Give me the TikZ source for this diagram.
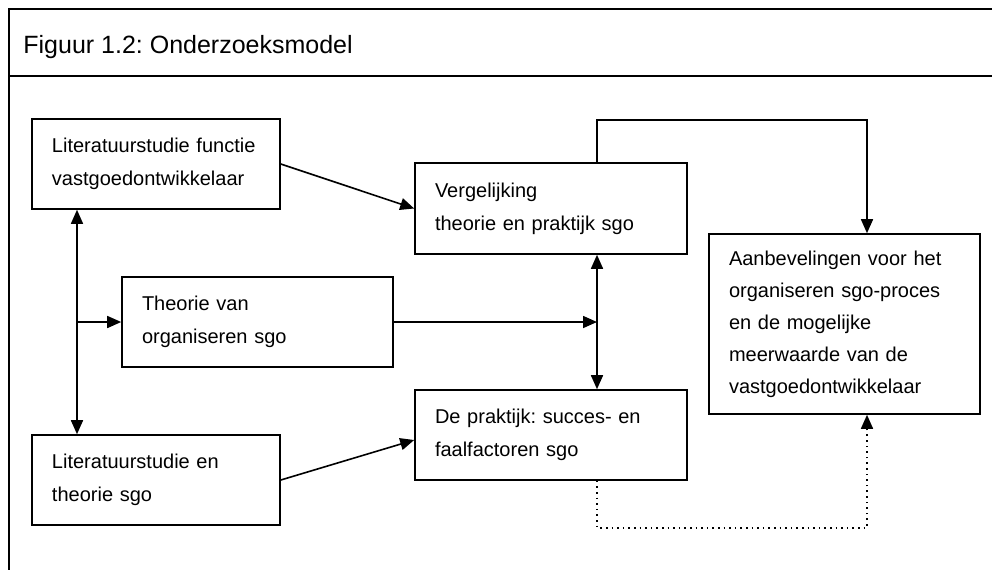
\documentclass[tikz,border=0pt]{standalone}
\usepackage{fontspec}
\setmainfont{Liberation Sans}
\frenchspacing
\usetikzlibrary{arrows.meta, positioning}
\tikzset{
  stap/.style={
    draw,
    line width=0.8pt,
    align=left,
    inner xsep=10pt,
    inner ysep=0pt,
    font=\fontsize{10}{16.5}\selectfont
  },
  pijl/.style={
    -{Triangle[length=7pt,width=6pt]},
    line width=0.8pt
  },
  dubbel/.style={
    {Triangle[length=7pt,width=6pt]}-{Triangle[length=7pt,width=6pt]},
    line width=0.8pt
  }
}

\begin{document}
\begin{tikzpicture}[x=0.5pt, y=-0.5pt]
  \useasboundingbox (0,0) rectangle (992,569);
  % kader en titel
  \draw[line width=0.7pt] (9,600) -- (9,9) -- (1010,9);
  \draw[line width=0.7pt] (9,76) -- (1010,76);
  \node[anchor=base west, font=\fontsize{12.5}{15}\selectfont, inner sep=0pt] (titel) at (23,53) {Figuur 1.2: Onderzoeksmodel};

  \node[stap, text width=104pt, minimum height=45pt] (lit) at (156,164) {Literatuurstudie functie\\vastgoedontwikkelaar};
  \node[stap, text width=115.5pt, minimum height=45pt] (theo) at (257.5,322) {Theorie van\\organiseren sgo};
  \node[stap, text width=104pt, minimum height=45pt] (litsgo) at (156,480) {Literatuurstudie en\\theorie sgo};
  \node[stap, text width=116pt, minimum height=45.5pt] (verg) at (551,208.5) {Vergelijking\\theorie en praktijk sgo};
  \node[stap, text width=116pt, minimum height=45pt] (prak) at (551,435) {De praktijk: succes- en\\faalfactoren sgo};
  \node[stap, text width=115.5pt, minimum height=90pt, font=\fontsize{10}{16}\selectfont] (aanb) at (844.5,324) {Aanbevelingen voor het\\organiseren sgo-proces\\en de mogelijke\\meerwaarde van de\\vastgoedontwikkelaar};

  \coordinate (links) at (77,322);
  \coordinate (midden) at (597,322);

  \draw[dubbel] ([xshift=-39.5pt]lit.south) -- ([xshift=-39.5pt]litsgo.north);
  \draw[pijl] (links) -- (theo.west);
  \draw[pijl] (lit.east) -- (verg.west);
  \draw[pijl] (litsgo.east) -- ([yshift=-2.5pt]prak.west);
  \draw[pijl] (theo.east) -- (midden);
  \draw[dubbel] ([xshift=23pt]verg.south) -- ([xshift=23pt]prak.north);
  \draw[pijl] ([xshift=23pt]verg.north) -- ++(0,-42) -| ([xshift=11.25pt]aanb.north);
  \draw[pijl, dotted] ([xshift=23pt]prak.south) -- ++(0,47) -| ([xshift=11.25pt]aanb.south);
\end{tikzpicture}
\end{document}
